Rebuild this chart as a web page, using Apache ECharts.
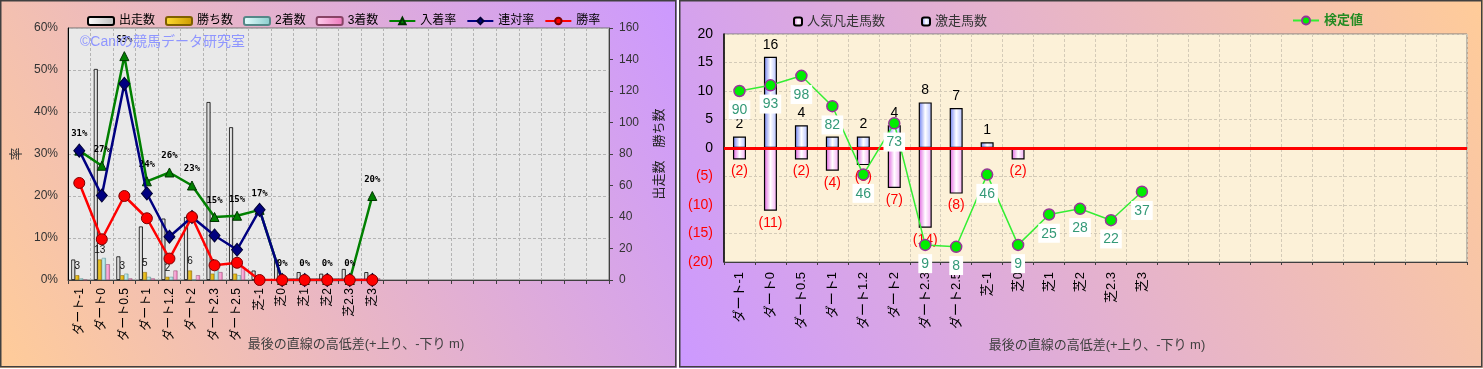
<!DOCTYPE html>
<html><head><meta charset="utf-8">
<script src="https://cdn.jsdelivr.net/npm/echarts@6/dist/echarts.min.js"></script>
<style>
html,body{margin:0;padding:0;background:#fff;}
#c1{position:absolute;left:0;top:0;width:677px;height:368px;}
#c2{position:absolute;left:679px;top:0;width:804px;height:368px;}
</style></head><body>
<div id="c1"></div><div id="c2"></div>
<script>
// ---- shared categories ----
const categories = ['ダート-1','ダート0','ダート0.5','ダート1','ダート1.2','ダート2','ダート2.3','ダート2.5','芝-1','芝0','芝1','芝2','芝2.3','芝3'];
const emptySlots = 10;
// ---- left chart data ----
const starts  = [13,134,15,34,39,40,113,97,6,13,5,4,7,5];
const wins    = [3,13,3,5,2,6,4,4,0,0,0,0,0,0];
const seconds = [1,14,4,2,2,0,8,3,1,0,0,0,0,0];
const thirds  = [0,10,1,1,6,3,5,8,0,0,0,0,0,1];
const placeRate    = [30.8,27.2,53.3,23.5,25.6,22.5,15.0,15.3,16.7,0,0,0,0,20.0];
const quinellaRate = [30.8,20.1,46.7,20.6,10.3,15.0,10.6,7.2,16.7,0,0,0,0,0];
const winRate      = [23.1,9.7,20.0,14.7,5.1,15.0,3.5,4.1,0,0,0,0,0,0];
// ---- right chart data ----
const upsetCounts = [2,16,4,2,2,4,8,7,1,0,0,0,0,0];
const flopCounts  = [-2,-11,-2,-4,-3,-7,-14,-8,0,-2,0,0,0,0];
const testValues  = [90,93,98,82,46,73,9,8,46,9,25,28,22,37];

const axisCats = categories.concat(new Array(emptySlots).fill(''));
const FONT = "'Liberation Sans','Noto Sans CJK JP',sans-serif";
const hGrad = (stops) => ({type:'linear',x:0,y:0,x2:1,y2:0,colorStops:stops.map((c,i)=>({offset:i/(stops.length-1),color:c}))});

// ================= LEFT =================
const c1 = echarts.init(document.getElementById('c1'));
c1.setOption({
  animation:false,
  backgroundColor:{type:'linear',x:0,y:1,x2:1,y2:0,colorStops:[{offset:0,color:'#ffcc99'},{offset:1,color:'#cc99ff'}]},
  textStyle:{fontFamily:FONT},
  legend:{left:82,top:10,itemWidth:26,itemHeight:8,itemGap:10,textStyle:{fontSize:12,color:'#000',fontFamily:FONT},
    data:['出走数','勝ち数','2着数','3着数','入着率','連対率','勝率']},
  grid:{left:68,top:28,width:541,height:252,show:true,backgroundColor:'#e9e9e9',borderColor:'#707070',borderWidth:1},
  xAxis:{type:'category',data:axisCats,
    axisLine:{lineStyle:{color:'#404040'}},
    axisTick:{show:true,length:4,interval:0,lineStyle:{color:'#404040'}},
    axisLabel:{rotate:90,fontSize:12,color:'#000',margin:8,interval:0,fontFamily:FONT},
    splitLine:{show:true,interval:0,lineStyle:{color:'#b4b4b4',type:[3,2]}}},
  yAxis:[
    {type:'value',min:0,max:60,interval:10,name:'率',nameLocation:'middle',nameGap:36,nameRotate:90,
     nameTextStyle:{fontSize:13,color:'#333',fontFamily:FONT},
     axisLabel:{formatter:'{value}%',fontSize:12,color:'#333',margin:10,fontFamily:FONT},
     axisLine:{show:true,lineStyle:{color:'#000'}},axisTick:{show:false},
     splitLine:{lineStyle:{color:'#b4b4b4',type:[3,2]}}},
    {type:'value',min:0,max:160,interval:20,position:'right',name:'出走数　勝ち数',nameLocation:'middle',nameGap:44,nameRotate:90,
     nameTextStyle:{fontSize:13,color:'#222',fontFamily:FONT},
     axisLabel:{fontSize:12,color:'#333',margin:10,fontFamily:FONT},
     axisLine:{show:true,lineStyle:{color:'#404040'}},axisTick:{show:true,length:4,lineStyle:{color:'#404040'}},
     splitLine:{show:false}}
  ],
  graphic:[
    {type:'text',left:80,top:35,z:50,style:{text:'©Caniの競馬データ研究室',fill:'#8f96ff',font:'14px '+FONT}},
    {type:'text',x:356,y:344,style:{text:'最後の直線の高低差(+上り、-下り m)',fill:'#404040',font:'13px '+FONT,align:'center',verticalAlign:'middle'}},
    {type:'rect',shape:{x:0.75,y:0.75,width:675,height:366},style:{fill:'none',stroke:'#404040',lineWidth:1.5},z:100}
  ],
  series:[
    {name:'出走数',type:'bar',yAxisIndex:1,data:starts,barWidth:4,barGap:'0%',
     itemStyle:{color:hGrad(['#ffffff','#bcbcbc']),borderColor:'#000',borderWidth:0.8}},
    {name:'勝ち数',type:'bar',yAxisIndex:1,data:wins,barWidth:4,barGap:'0%',
     itemStyle:{color:hGrad(['#ffdd33','#cc9900']),borderColor:'#806000',borderWidth:0.5},
     label:{show:true,position:'top',distance:4,fontSize:10,color:'#111',fontFamily:FONT,formatter:p=>p.value>0?String(p.value):''}},
    {name:'2着数',type:'bar',yAxisIndex:1,data:seconds,barWidth:4,barGap:'0%',
     itemStyle:{color:hGrad(['#e8ffff','#88cccc']),borderColor:'#558888',borderWidth:0.5}},
    {name:'3着数',type:'bar',yAxisIndex:1,data:thirds,barWidth:4,barGap:'0%',
     itemStyle:{color:hGrad(['#ffd0ee','#ee77bb']),borderColor:'#884466',borderWidth:0.5}},
    {name:'入着率',type:'line',yAxisIndex:0,data:placeRate,symbol:'triangle',symbolSize:9,z:3,
     lineStyle:{color:'#008000',width:2.5},itemStyle:{color:'#008000',borderColor:'#003300',borderWidth:1},
     label:{show:true,position:'top',distance:7,fontSize:9,fontWeight:'bold',color:'#000',fontFamily:"'DejaVu Sans Mono',monospace",
       formatter:p=>Math.round(p.value)+'%'}},
    {name:'連対率',type:'line',yAxisIndex:0,data:quinellaRate,symbol:'diamond',symbolSize:[11,13],z:4,
     lineStyle:{color:'#000080',width:2.5},itemStyle:{color:'#000080',borderColor:'#000033',borderWidth:1}},
    {name:'勝率',type:'line',yAxisIndex:0,data:winRate,symbol:'circle',symbolSize:11,z:5,
     lineStyle:{color:'#ff0000',width:2.5},itemStyle:{color:'#ff0000',borderColor:'#800000',borderWidth:1}}
  ]
});

// ================= RIGHT =================
const c2 = echarts.init(document.getElementById('c2'));
c2.setOption({
  animation:false,
  backgroundColor:{type:'linear',x:0,y:1,x2:1,y2:0,colorStops:[{offset:0,color:'#cc99ff'},{offset:1,color:'#ffcc99'}]},
  textStyle:{fontFamily:FONT},
  legend:[
    {left:109,top:10,itemWidth:8,itemHeight:8,itemGap:36,data:['人気凡走馬数','激走馬数'],
     textStyle:{fontSize:13,color:'#333',fontFamily:FONT}},
    {left:608,top:9,itemWidth:26,itemHeight:10,data:['検定値'],
     textStyle:{fontSize:13,color:'#228b22',fontWeight:'bold',fontFamily:FONT,textShadowColor:'rgba(0,60,0,0.35)',textShadowOffsetX:1,textShadowOffsetY:1,textShadowBlur:0}}
  ],
  grid:{left:45,top:34,width:743,height:228,show:true,backgroundColor:'#fcf1d8',borderColor:'#808080',borderWidth:1},
  xAxis:{type:'category',data:axisCats,
    axisLine:{onZero:false,lineStyle:{color:'#404040'}},
    axisTick:{show:true,length:3,interval:0,lineStyle:{color:'#404040'}},
    axisLabel:{rotate:90,fontSize:13,color:'#000',margin:10,interval:0,fontFamily:FONT},
    splitLine:{show:true,interval:0,lineStyle:{color:'#d4cbb8',type:[3,2]}}},
  yAxis:[
    {type:'value',min:-20,max:20,interval:5,
     axisLabel:{fontSize:14,margin:11,fontFamily:FONT,color:v=>(v<0?'#ff0000':'#000'),formatter:v=>(v<0?'('+(-v)+')':String(v))},
     axisLine:{show:true,lineStyle:{color:'#000',width:1.5}},axisTick:{show:false},
     splitLine:{lineStyle:{color:'#d4cbb8',type:[3,2]}}},
    {type:'value',min:0,max:120,show:false,splitLine:{show:false}}
  ],
  graphic:[
    {type:'text',x:418,y:345,style:{text:'最後の直線の高低差(+上り、-下り m)',fill:'#404040',font:'13px '+FONT,align:'center',verticalAlign:'middle'}},
    {type:'rect',shape:{x:0.75,y:0.75,width:802,height:366},style:{fill:'none',stroke:'#404040',lineWidth:1.5},z:100}
  ],
  series:[
    {name:'激走馬数',type:'bar',data:upsetCounts,barWidth:13,barGap:'-100%',
     itemStyle:{color:hGrad(['#6a7cf0','#ffffff','#b0bcff']),borderColor:'#000',borderWidth:1.2},
     label:{show:true,position:'top',fontSize:14,color:'#000',fontFamily:FONT,formatter:p=>p.value>0?String(p.value):''}},
    {name:'人気凡走馬数',type:'bar',data:flopCounts,barWidth:13,barGap:'-100%',
     itemStyle:{color:hGrad(['#e060e0','#ffffff','#f4a8f4']),borderColor:'#000',borderWidth:1.2},
     label:{show:true,position:'bottom',fontSize:14,color:'#ff0000',fontFamily:FONT,formatter:p=>p.value<0?'('+(-p.value)+')':''},
     markLine:{silent:true,symbol:'none',label:{show:false},lineStyle:{color:'#ff0000',width:3,type:'solid'},data:[{yAxis:0}]}},
    {name:'検定値',type:'line',yAxisIndex:1,data:testValues,symbol:'circle',symbolSize:11,z:10,
     lineStyle:{color:'#33ee33',width:1.5},itemStyle:{color:'#00ee00',borderColor:'#993399',borderWidth:1.5},
     label:{show:true,position:'bottom',distance:3,fontSize:14,color:'#339977',backgroundColor:'#ffffff',padding:[3,3,2,3],fontFamily:FONT}}
  ]
});
</script></body></html>
